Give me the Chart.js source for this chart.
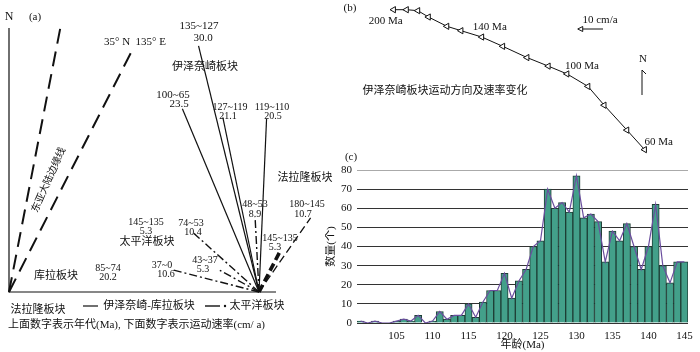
<!DOCTYPE html>
<html>
<head>
<meta charset="utf-8">
<script src="https://cdn.jsdelivr.net/npm/chart.js@4.4.1/dist/chart.umd.min.js"></script>
<style>
  body { margin: 0; background: #fff; width: 700px; height: 352px; position: relative; overflow: hidden; }
  .box { position: absolute; }
</style>
</head>
<body>
<div class="box" style="left:0;top:0;width:345px;height:352px"><canvas id="chartA" width="345" height="352"></canvas></div>
<div class="box" style="left:340px;top:0;width:360px;height:165px"><canvas id="chartB" width="360" height="165"></canvas></div>
<div class="box" style="left:325px;top:150px;width:375px;height:202px"><canvas id="chartC" width="375" height="202"></canvas></div>

<script>
// === (a) 板块运动矢量：年代(Ma)、速率(cm/a)、方位角(度，自北起顺时针) ===
const izanagiAges = ["135~127", "100~65", "127~119", "119~110"];
const izanagiRates = [30.0, 23.5, 21.1, 20.5];
const izanagiAzimuths = [-13.8, -22.7, -11.7, 2.5];

const pacificAges = ["74~53", "43~37", "37~0", "48~53"];
const pacificRates = [10.4, 5.3, 10.6, 8.9];
const pacificAzimuths = [-48, -61, -75.6, -3];

const farallonAges = ["180~145", "145~135"];
const farallonRates = [10.7, 5.3];
const farallonAzimuths = [34.8, 27.4];

const marginAzimuths = [11, 27]; // 东亚大陆边缘线

// === (b) 伊泽奈崎板块运动轨迹 (每10 Ma一个点，单位 cm/a×10Ma) ===
const pathAges = [200, 190, 180, 170, 160, 150, 140, 130, 120, 110, 100, 90, 80, 70, 60];
const pathEast = [0, 5.1, 9.6, 13.8, 21.1, 26.7, 34.9, 43.2, 52.8, 61.2, 68.6, 76.9, 83.3, 92.3, 99.3];
const pathNorth = [0, 0, -0.4, -3.0, -6.8, -8.6, -11.2, -15.0, -19.6, -23.1, -26.3, -31.4, -39.1, -49.3, -57.3];
const pathLabelAges = [200, 140, 100, 60];

// === (c) 年龄直方图 ===
const ages = [100, 101, 102, 103, 104, 105, 106, 107, 108, 109, 110, 111, 112, 113, 114, 115,
  116, 117, 118, 119, 120, 121, 122, 123, 124, 125, 126, 127, 128, 129, 130, 131, 132, 133,
  134, 135, 136, 137, 138, 139, 140, 141, 142, 143, 144, 145];
const counts = [1, 0, 1, 0, 0, 1, 2, 1, 4, 0, 1, 6, 2, 4, 4, 10, 3, 11, 17, 17, 26, 13, 22, 28,
  40, 43, 70, 60, 63, 58, 77, 55, 57, 53, 32, 48, 43, 52, 40, 28, 40, 62, 30, 21, 32, 32];
const countTicks = [0, 10, 20, 30, 40, 50, 60, 70, 80];

const FONT = '"Liberation Serif", "Noto Sans CJK SC", serif';
Chart.defaults.font.family = FONT;
Chart.defaults.color = "#111";

// petit utilitaire : écrire une liste de textes [texte, x, y, taille, rotation, align]
function drawTexts(ctx, items) {
  items.forEach(([t, x, y, size, rot, align]) => {
    ctx.save();
    ctx.font = `${size || 11}px ${FONT}`;
    ctx.fillStyle = "#111";
    ctx.textAlign = align || "center";
    ctx.textBaseline = "middle";
    ctx.translate(x, y);
    if (rot) ctx.rotate(rot * Math.PI / 180);
    ctx.fillText(t, 0, 0);
    ctx.restore();
  });
}

function polar(rate, az) {
  const a = az * Math.PI / 180;
  return [{ x: 0, y: 0 }, { x: rate * Math.sin(a), y: rate * Math.cos(a) }];
}

// ---------- (a) ----------
const PX_A = 8.45, OX = 259, OY = 292, FX = 9;
const datasetsA = [];
izanagiRates.forEach((r, i) => datasetsA.push({
  data: polar(r, izanagiAzimuths[i]), borderColor: "#111", borderWidth: 1.2
}));
pacificRates.forEach((r, i) => datasetsA.push({
  data: polar(r, pacificAzimuths[i]), borderColor: "#111", borderWidth: 1.4, borderDash: [8, 3, 2, 3]
}));
farallonRates.forEach((r, i) => {
  const double = i === 1;
  datasetsA.push({ data: polar(r, farallonAzimuths[i]), borderColor: "#111", borderWidth: double ? 3.6 : 1.3, borderDash: [8, 4] });
  if (double) datasetsA.push({ data: polar(r, farallonAzimuths[i]), borderColor: "#fff", borderWidth: 1.4, borderDash: [8, 4] });
});
datasetsA.forEach((d) => { d.showLine = true; d.pointRadius = 0; d.fill = false; });

const textsA = [
  ["N", 9, 17, 12], ["(a)", 35, 17, 11], ["35° N  135° E", 135, 42, 11],
  ["伊泽奈崎板块", 205, 67, 11],
  ["135~127", 199, 26], ["30.0", 203, 38],
  ["100~65", 173, 95], ["23.5", 179, 104],
  ["127~119", 230, 107, 10], ["21.1", 228, 116, 10],
  ["119~110", 272, 107, 10], ["20.5", 273, 116, 10],
  ["法拉隆板块", 305, 178, 11],
  ["48~53", 255, 204, 10], ["8.9", 255, 214, 10],
  ["180~145", 307, 204, 10], ["10.7", 303, 214, 10],
  ["145~135", 280, 238, 10], ["5.3", 275, 247, 10],
  ["145~135", 146, 222, 10], ["5.3", 146, 231, 10],
  ["74~53", 191, 223, 10], ["10.4", 193, 232, 10],
  ["太平洋板块", 147, 242, 11],
  ["43~37", 205, 260, 10], ["5.3", 203, 269, 10],
  ["37~0", 162, 265, 10], ["10.6", 166, 274, 10],
  ["85~74", 108, 268, 10], ["20.2", 108, 277, 10],
  ["库拉板块", 56, 276, 11],
  ["东亚大陆边缘线", 49, 180, 10, -66],
  ["法拉隆板块", 38, 310, 11], ["伊泽奈崎-库拉板块", 149, 306, 11], ["太平洋板块", 257, 306, 11],
  ["上面数字表示年代(Ma), 下面数字表示运动速率(cm/ a)", 8, 325, 11, 0, "left"],
];

const framePlugin = {
  id: "frameA",
  beforeDatasetsDraw(chart) {
    const ctx = chart.ctx;
    ctx.save();
    ctx.strokeStyle = "#111";
    ctx.fillStyle = "#111";
    // ligne nord + ligne de base
    ctx.lineWidth = 1.2;
    ctx.beginPath();
    ctx.moveTo(FX, 28); ctx.lineTo(FX, OY);
    ctx.lineTo(276, OY);
    ctx.stroke();
    // lignes de la marge continentale
    ctx.lineWidth = 2;
    ctx.setLineDash([15, 8]);
    marginAzimuths.forEach((az) => {
      const a = az * Math.PI / 180;
      ctx.beginPath();
      ctx.moveTo(FX, OY);
      ctx.lineTo(FX + 274 * Math.sin(a), OY - 274 * Math.cos(a));
      ctx.stroke();
    });
    // légende
    ctx.setLineDash([]);
    ctx.lineWidth = 1.2;
    ctx.beginPath(); ctx.moveTo(83, 306); ctx.lineTo(98, 306); ctx.stroke();
    ctx.lineWidth = 1.4;
    ctx.beginPath(); ctx.moveTo(205, 306); ctx.lineTo(220, 306); ctx.stroke();
    ctx.beginPath(); ctx.arc(225, 306, 1.2, 0, Math.PI * 2); ctx.fill();
    ctx.restore();
  },
  afterDraw(chart) {
    drawTexts(chart.ctx, textsA);
  },
};

new Chart(document.getElementById("chartA"), {
  type: "scatter",
  data: { datasets: datasetsA },
  options: {
    responsive: false, animation: false, devicePixelRatio: 1,
    layout: { padding: 0 },
    plugins: { legend: { display: false }, tooltip: { enabled: false } },
    scales: {
      x: { type: "linear", display: false, min: -OX / PX_A, max: (345 - OX) / PX_A },
      y: { type: "linear", display: false, min: -(352 - OY) / PX_A, max: OY / PX_A },
    },
  },
  plugins: [framePlugin],
});

// ---------- (b) ----------
const PX_B = 2.6, BX = 50, BY = 5;
const labelOffsets = { 200: [-8, 11], 140: [8, -10], 100: [15, -8], 60: [14, -8] };

const pathPlugin = {
  id: "pathB",
  afterDraw(chart) {
    const ctx = chart.ctx;
    const xs = chart.scales.x, ys = chart.scales.y;
    const items = [["(b)", 10, 8, 11], ["10 cm/a", 260, 20, 11], ["N", 303, 59, 11],
      ["伊泽奈崎板块运动方向及速率变化", 105, 91, 11]];
    pathLabelAges.forEach((age) => {
      const i = pathAges.indexOf(age);
      const [dx, dy] = labelOffsets[age];
      items.push([`${age} Ma`, xs.getPixelForValue(pathEast[i]) + dx, ys.getPixelForValue(pathNorth[i]) + dy, 11]);
    });
    drawTexts(ctx, items);

    // flèche d'échelle 10 cm/a
    const len = xs.getPixelForValue(10) - xs.getPixelForValue(0);
    ctx.save();
    ctx.strokeStyle = "#111";
    ctx.lineWidth = 1;
    ctx.beginPath(); ctx.moveTo(263, 29); ctx.lineTo(263 - len + 4, 29); ctx.stroke();
    ctx.fillStyle = "#fff";
    ctx.beginPath(); ctx.moveTo(263 - len, 29); ctx.lineTo(263 - len + 5, 26.5); ctx.lineTo(263 - len + 5, 31.5); ctx.closePath();
    ctx.fill(); ctx.stroke();
    // flèche du nord
    ctx.beginPath(); ctx.moveTo(306, 74); ctx.lineTo(302, 70); ctx.lineTo(302, 95); ctx.stroke();
    ctx.restore();
  },
};

new Chart(document.getElementById("chartB"), {
  type: "scatter",
  data: {
    datasets: [{
      data: pathEast.map((e, i) => ({ x: e, y: pathNorth[i] })),
      showLine: true, borderColor: "#111", borderWidth: 1,
      pointStyle: "triangle", pointRotation: 270, pointRadius: 3.6,
      pointBackgroundColor: "#fff", pointBorderColor: "#111", pointBorderWidth: 1,
      clip: false,
    }],
  },
  options: {
    responsive: false, animation: false, devicePixelRatio: 1,
    layout: { padding: 0 },
    plugins: { legend: { display: false }, tooltip: { enabled: false } },
    scales: {
      x: { type: "linear", display: false, min: -BX / PX_B, max: (360 - BX) / PX_B },
      y: { type: "linear", display: false, min: -(165 - BY) / PX_B, max: BY / PX_B },
    },
  },
  plugins: [pathPlugin],
});

// ---------- (c) ----------
new Chart(document.getElementById("chartC"), {
  type: "bar",
  data: {
    labels: ages.map(String),
    datasets: [
      {
        type: "line", data: counts, borderColor: "#6a4e9e", borderWidth: 1.2,
        pointRadius: 0, tension: 0, order: 0,
      },
      {
        type: "bar", data: counts, backgroundColor: "#43a08a", borderColor: "#1e3d35",
        borderWidth: 1, barPercentage: 1, categoryPercentage: 1, order: 1,
      },
    ],
  },
  options: {
    responsive: false, animation: false, devicePixelRatio: 1,
    layout: { padding: { top: 20, right: 12, left: 0, bottom: 0 } },
    plugins: { legend: { display: false }, tooltip: { enabled: false } },
    scales: {
      x: {
        grid: { display: false, drawTicks: false },
        border: { display: false },
        ticks: {
          autoSkip: false, maxRotation: 0, padding: 7, font: { size: 11 },
          callback: (v, i) => (i > 0 && (ages[i] - ages[0]) % 5 === 0 ? ages[i] : ""),
        },
        title: { display: true, text: "年龄(Ma)", font: { size: 11 }, padding: { top: 0, bottom: 0 } },
        afterFit: (s) => { s.height = 29; },
      },
      y: {
        z: 1,
        min: countTicks[0], max: countTicks[countTicks.length - 1],
        afterBuildTicks: (s) => { s.ticks = countTicks.map((v) => ({ value: v })); },
        grid: { drawTicks: false, color: (c) => (c.tick && c.tick.value === 80 ? "#aaa" : "#333"), lineWidth: 1 },
        border: { display: false },
        ticks: { padding: 5, font: { size: 11 } },
        title: { display: true, text: "数量(个)", font: { size: 11 }, padding: { top: 0, bottom: 0 } },
        afterFit: (s) => { s.width = 32; },
      },
    },
  },
  plugins: [{ id: "labelC", afterDraw: (chart) => drawTexts(chart.ctx, [["(c)", 26, 7, 11]]) }],
});
</script>
</body>
</html>
